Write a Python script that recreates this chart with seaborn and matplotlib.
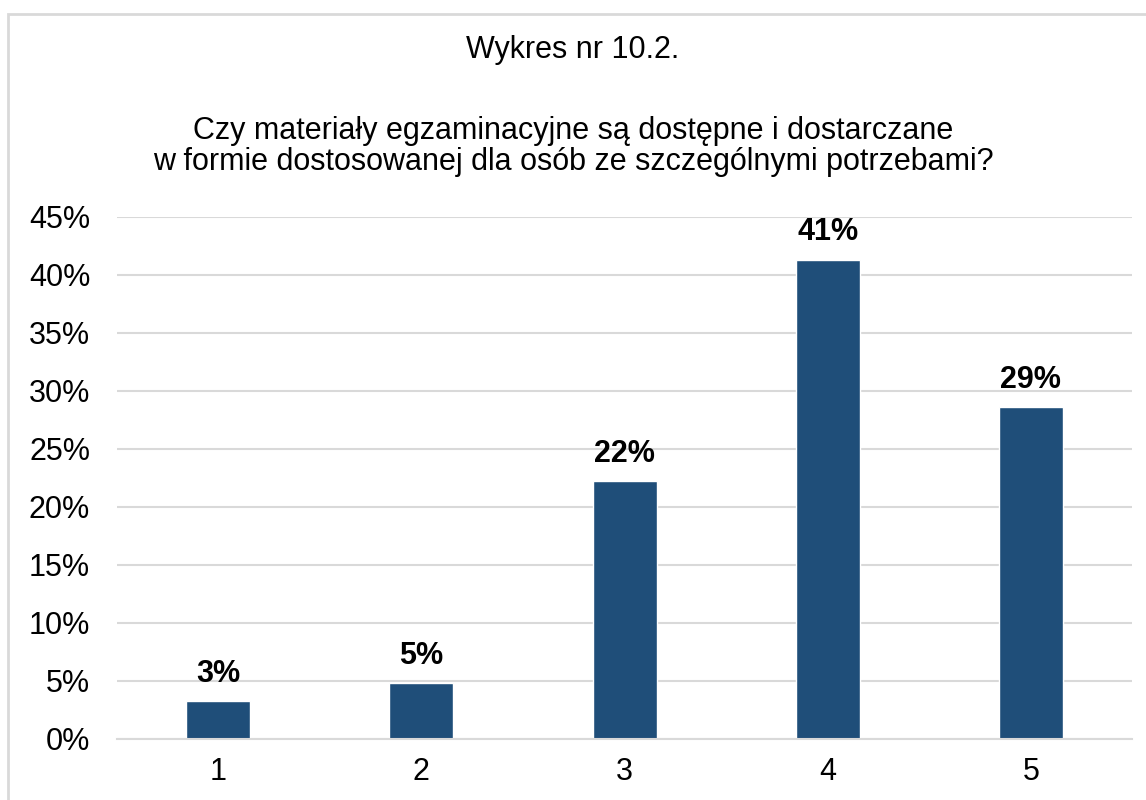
"""Bar chart: Wykres nr 10.2 - dostępność materiałów egzaminacyjnych."""

import matplotlib

matplotlib.use("agg")
import matplotlib.pyplot as plt
from matplotlib.patches import Rectangle
from matplotlib.ticker import FuncFormatter, MultipleLocator
import pandas as pd
import seaborn as sns

CATEGORIES = ["1", "2", "3", "4", "5"]
SHARES = [3.25, 4.8, 22.2, 41.3, 28.6]
BAR_COLOR = "#1F4E79"
GRID_COLOR = "#d9d9d9"
FONT_SIZE = 22


def configure_matplotlib():
    sns.set_theme(style="white")
    plt.rcParams["font.family"] = ["Liberation Sans", "DejaVu Sans"]
    plt.rcParams["figure.facecolor"] = "white"
    plt.rcParams["axes.facecolor"] = "white"
    plt.rcParams["text.color"] = "black"


def main():
    configure_matplotlib()
    df = pd.DataFrame({"odpowiedz": CATEGORIES, "udzial": SHARES})

    fig = plt.figure(figsize=(11.46, 8.0), dpi=100)
    ax = fig.add_axes([0.1017, 0.07625, 0.8865, 0.6525])

    sns.barplot(data=df, x="odpowiedz", y="udzial", color=BAR_COLOR, width=0.315,
                saturation=1, ax=ax)

    ax.set_ylim(0, 45)
    ax.set_xlim(-0.5, len(CATEGORIES) - 0.5)
    ax.yaxis.set_major_locator(MultipleLocator(5))
    ax.yaxis.set_major_formatter(FuncFormatter(lambda v, _: f"{v:.0f}%"))
    ax.grid(axis="y", color=GRID_COLOR, linewidth=1.5)
    ax.set_axisbelow(True)
    for side in ["top", "right", "left"]:
        ax.spines[side].set_visible(False)
    ax.spines["bottom"].set_color(GRID_COLOR)
    ax.spines["bottom"].set_linewidth(1.5)
    ax.tick_params(axis="both", length=0, labelsize=FONT_SIZE, colors="black")
    ax.tick_params(axis="x", pad=13)
    ax.tick_params(axis="y", pad=19)
    ax.set_xlabel("")
    ax.set_ylabel("")

    ax.bar_label(ax.containers[0], labels=[f"{v:.0f}%" for v in SHARES],
                 padding=9, fontsize=FONT_SIZE, fontweight="bold", color="black")

    fig.text(0.5, 0.9375, "Wykres nr 10.2.", ha="center", va="center", fontsize=FONT_SIZE)
    fig.text(0.5, 0.817,
             "Czy materiały egzaminacyjne są dostępne i dostarczane\n"
             "w formie dostosowanej dla osób ze szczególnymi potrzebami?",
             ha="center", va="center", fontsize=FONT_SIZE, linespacing=1.05)

    fig.patches.append(Rectangle((8 / 1146, -0.1), 2.0, 1.1 - 14 / 800, transform=fig.transFigure,
                                 fill=False, edgecolor=GRID_COLOR, linewidth=2))

    fig.savefig("out.png", dpi=100)
    plt.close(fig)


if __name__ == "__main__":
    main()
